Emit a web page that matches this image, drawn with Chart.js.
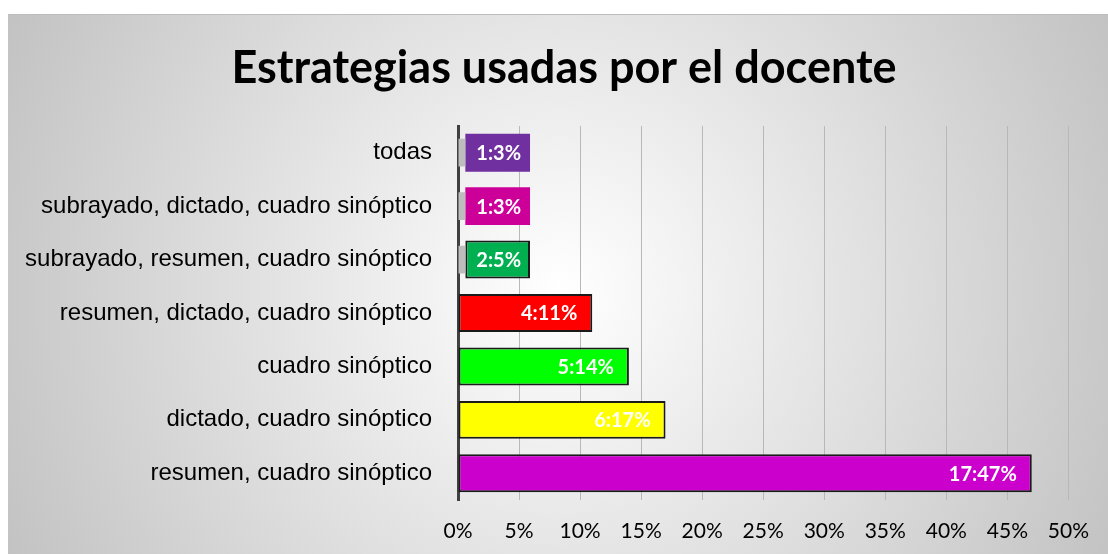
<!DOCTYPE html>
<html>
<head>
<meta charset="utf-8">
<script src="https://cdn.jsdelivr.net/npm/chart.js@4.4.0/dist/chart.umd.min.js"></script>
<style>
  html, body { margin: 0; padding: 0; background: #fff; }
  #wrap { width: 1108px; height: 554px; }
</style>
</head>
<body>
<div id="wrap"><canvas id="myChart" width="1108" height="554"></canvas></div>
<script>
const titleText = 'Estrategias usadas por el docente';
const categories = [
  'todas',
  'subrayado, dictado, cuadro sinóptico',
  'subrayado, resumen, cuadro sinóptico',
  'resumen, dictado, cuadro sinóptico',
  'cuadro sinóptico',
  'dictado, cuadro sinóptico',
  'resumen, cuadro sinóptico'
];
const counts = [1, 1, 2, 4, 5, 6, 17];
const percents = [3, 3, 5, 11, 14, 17, 47];
// bar lengths as drawn in the picture (the small ones are drawn wider than their value)
const stubValues = [0.6, 0.6, 0.6, 0, 0, 0, 0];
const barValues = [5.3, 5.3, 5.3, 11, 14, 17, 47];
const barColors = ['#7030A0', '#CC0099', '#00B050', '#FF0000', '#00FF00', '#FFFF00', '#CC00CC'];
const borderWidths = [0, 0, 2, 2, 2, 2, 2];
const xTicks = [0, 5, 10, 15, 20, 25, 30, 35, 40, 45, 50];

const ctx = document.getElementById('myChart');

// grey box with radial shading, plus the title (centred on the box, not the plot)
const background = {
  id: 'background',
  beforeDraw(chart) {
    const c = chart.ctx;
    c.save();
    c.fillStyle = '#fff';
    c.fillRect(0, 0, chart.width, chart.height);
    const g = c.createRadialGradient(560, 290, 0, 560, 290, 620);
    g.addColorStop(0, '#ffffff');
    g.addColorStop(1, '#c2c2c2');
    c.fillStyle = g;
    c.fillRect(8, 14, chart.width - 8, chart.height - 14);
    c.fillStyle = '#bdbdbd';
    c.fillRect(8, 14, chart.width - 8, 1);
    c.font = 'bold 45px Lato';
    c.fillStyle = '#000';
    c.textAlign = 'center';
    c.textBaseline = 'middle';
    c.fillText(titleText, 564, 68);
    c.restore();
  }
};

const barLabels = {
  id: 'barLabels',
  afterDatasetsDraw(chart) {
    const c = chart.ctx;
    const meta = chart.getDatasetMeta(1);
    c.save();
    c.font = 'bold 20px Lato';
    c.fillStyle = '#fff';
    c.textBaseline = 'middle';
    c.textAlign = 'right';
    meta.data.forEach((bar, i) => {
      const pad = barValues[i] < 8 ? 9 : 15;
      c.fillText(counts[i] + ':' + percents[i] + '%', bar.x - pad, bar.y + 1);
    });
    c.restore();
  }
};

const data = {
  labels: categories,
  datasets: [{
    label: 'base',
    data: stubValues,
    backgroundColor: '#bdbdbd',
    borderWidth: 0,
    barPercentage: 0.52,
    categoryPercentage: 1
  },
  {
    label: 'Estrategias',
    data: barValues,
    backgroundColor: barColors,
    borderColor: '#1a1a1a',
    borderWidth: borderWidths,
    borderSkipped: false,
    barPercentage: 0.71,
    categoryPercentage: 1
  }]
};

const config = {
  type: 'bar',
  data: data,
  options: {
    indexAxis: 'y',
    responsive: false,
    animation: false,
    layout: { padding: { left: 0, right: 37, top: 126, bottom: 0 } },
    plugins: {
      legend: { display: false },
      tooltip: { enabled: false },
      title: { display: false }
    },
    scales: {
      x: {
        stacked: true,
        min: 0,
        max: 50,
        afterBuildTicks: (scale) => { scale.ticks = xTicks.map(v => ({ value: v })); },
        afterFit: (scale) => { scale.height = 54; },
        ticks: {
          callback: (v) => v + '%',
          color: '#000',
          font: { family: 'Lato', size: 21 },
          padding: 19,
          maxRotation: 0
        },
        grid: { color: '#b8b8b8', lineWidth: 1, drawTicks: false },
        border: { display: false }
      },
      y: {
        stacked: true,
        afterFit: (scale) => { scale.width = 458; },
        ticks: {
          color: '#000',
          font: { family: 'Liberation Sans', size: 24 },
          padding: 26
        },
        grid: { display: false, drawTicks: false },
        border: { display: true, color: '#404040', width: 3 }
      }
    }
  },
  plugins: [background, barLabels]
};

new Chart(ctx, config);
</script>
</body>
</html>
